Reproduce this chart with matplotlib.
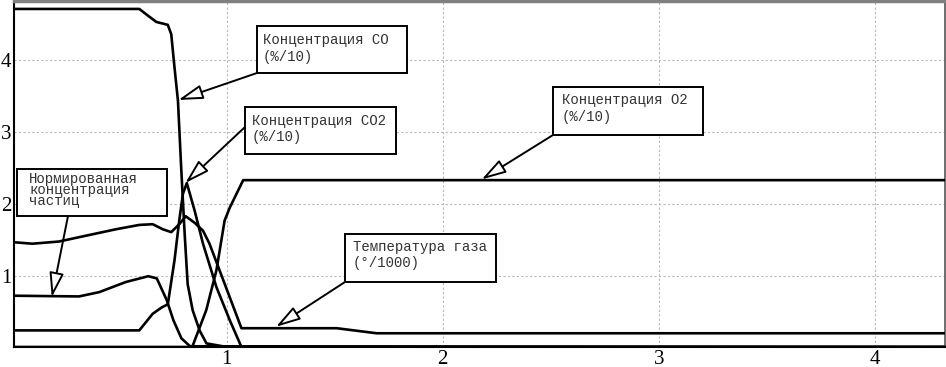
import matplotlib
matplotlib.use("Agg")
import matplotlib.pyplot as plt
from matplotlib.patches import Rectangle

# кривые
x_co = [0.015, 0.595, 0.634, 0.674, 0.727, 0.743, 0.758, 0.774, 0.789, 0.805, 0.819, 0.842, 0.874, 0.906, 1.0, 4.33]
y_co = [4.70, 4.70, 4.61, 4.52, 4.48, 4.35, 3.89, 3.43, 2.50, 1.59, 0.89, 0.53, 0.25, 0.07, 0.02, 0.02]

x_co2 = [0.015, 0.595, 0.657, 0.70, 0.727, 0.758, 0.78, 0.797, 0.815, 0.851, 0.89, 0.952, 1.014, 1.068, 4.33]
y_co2 = [0.25, 0.25, 0.48, 0.57, 0.61, 1.22, 1.77, 2.14, 2.29, 1.91, 1.45, 0.85, 0.39, 0.02, 0.02]

x_o2 = [0.015, 0.84, 0.905, 0.952, 0.99, 1.014, 1.076, 4.33]
y_o2 = [0.02, 0.02, 0.53, 1.08, 1.77, 1.95, 2.33, 2.33]

x_temp = [0.015, 0.1, 0.223, 0.347, 0.487, 0.595, 0.657, 0.704, 0.743, 0.78, 0.81, 0.851, 0.89, 0.92, 1.068, 1.509, 1.694, 4.33]
y_temp = [1.47, 1.45, 1.48, 1.56, 1.65, 1.71, 1.72, 1.65, 1.61, 1.72, 1.83, 1.74, 1.63, 1.45, 0.28, 0.28, 0.21, 0.21]

x_part = [0.015, 0.316, 0.41, 0.533, 0.637, 0.676, 0.722, 0.753, 0.79, 0.83, 4.33]
y_part = [0.73, 0.72, 0.78, 0.92, 1.0, 0.97, 0.67, 0.39, 0.14, 0.03, 0.02]

ticks = [1, 2, 3, 4]

# подписи: текст, рамка (px), стрелка из (px) в точку кривой (данные)
labels = [
    ("Концентрация CO\n(%/10)", (257, 26, 407, 73), (263, 48.5), 1.2, (257, 73), (0.776, 3.44)),
    ("Концентрация CO2\n(%/10)", (245, 107, 396, 154), (252, 129), 1.2, (245, 127), (0.808, 2.29)),
    ("Нормированная\nконцентрация\nчастиц", (17, 169, 167, 216), (29, 190), 0.72, (68, 216), (0.19, 0.71)),
    ("Концентрация O2\n(%/10)", (553, 87, 703, 135), (562, 108.5), 1.2, (553, 135), (2.18, 2.34)),
    ("Температура газа\n(°/1000)", (345, 234, 496, 282), (353, 255), 1.2, (345, 282), (1.228, 0.30)),
]

W, H = 946, 367
fig = plt.figure(figsize=(W / 100, H / 100), dpi=100)
ax = fig.add_axes([14 / W, 20 / H, 931 / W, 346 / H])

for xs, ys in [(x_co, y_co), (x_co2, y_co2), (x_o2, y_o2), (x_temp, y_temp), (x_part, y_part)]:
    ax.plot(xs, ys, color='black', lw=1.9, zorder=3, solid_joinstyle='round')

ax.set_xlim(0.015, 4.325)
ax.set_ylim(0.02, 4.81)
ax.set_xticks(ticks)
ax.set_yticks(ticks)
ax.grid(True, color='#b8b8b8', linestyle=(0, (2, 2)), lw=0.8)
ax.tick_params(length=0, pad=2, labelsize=15)
for lab in ax.get_xticklabels() + ax.get_yticklabels():
    lab.set_family('Liberation Serif')

ax.spines['left'].set_linewidth(1.5)
ax.spines['bottom'].set_linewidth(1.5)
ax.spines['top'].set_color('#808080')
ax.spines['top'].set_linewidth(2.5)
ax.spines['right'].set_color('#555555')
ax.spines['right'].set_linewidth(1.2)

def fx(px):
    return px / W

def fy(py):
    return 1 - py / H

for text, (x0, y0, x1, y1), (tx, ty), ls, (ax0, ay0), tip in labels:
    ax.annotate('', xy=tip, xycoords='data', xytext=(fx(ax0), fy(ay0)),
                textcoords='figure fraction', zorder=4,
                arrowprops=dict(arrowstyle='-|>,head_length=0.75,head_width=0.22',
                                fc='white', ec='black', lw=1.4, mutation_scale=20,
                                shrinkA=0, shrinkB=0))
    ax.add_patch(Rectangle((fx(x0), fy(y1)), (x1 - x0) / W, (y1 - y0) / H,
                           transform=fig.transFigure, fc='white', ec='black',
                           lw=1.4, zorder=5, clip_on=False))
    ax.text(fx(tx), fy(ty), text, transform=fig.transFigure, ha='left', va='center',
            family='Liberation Mono', fontsize=10.1, color='#333333',
            linespacing=ls, zorder=6)

plt.savefig("out.png", dpi=100)
